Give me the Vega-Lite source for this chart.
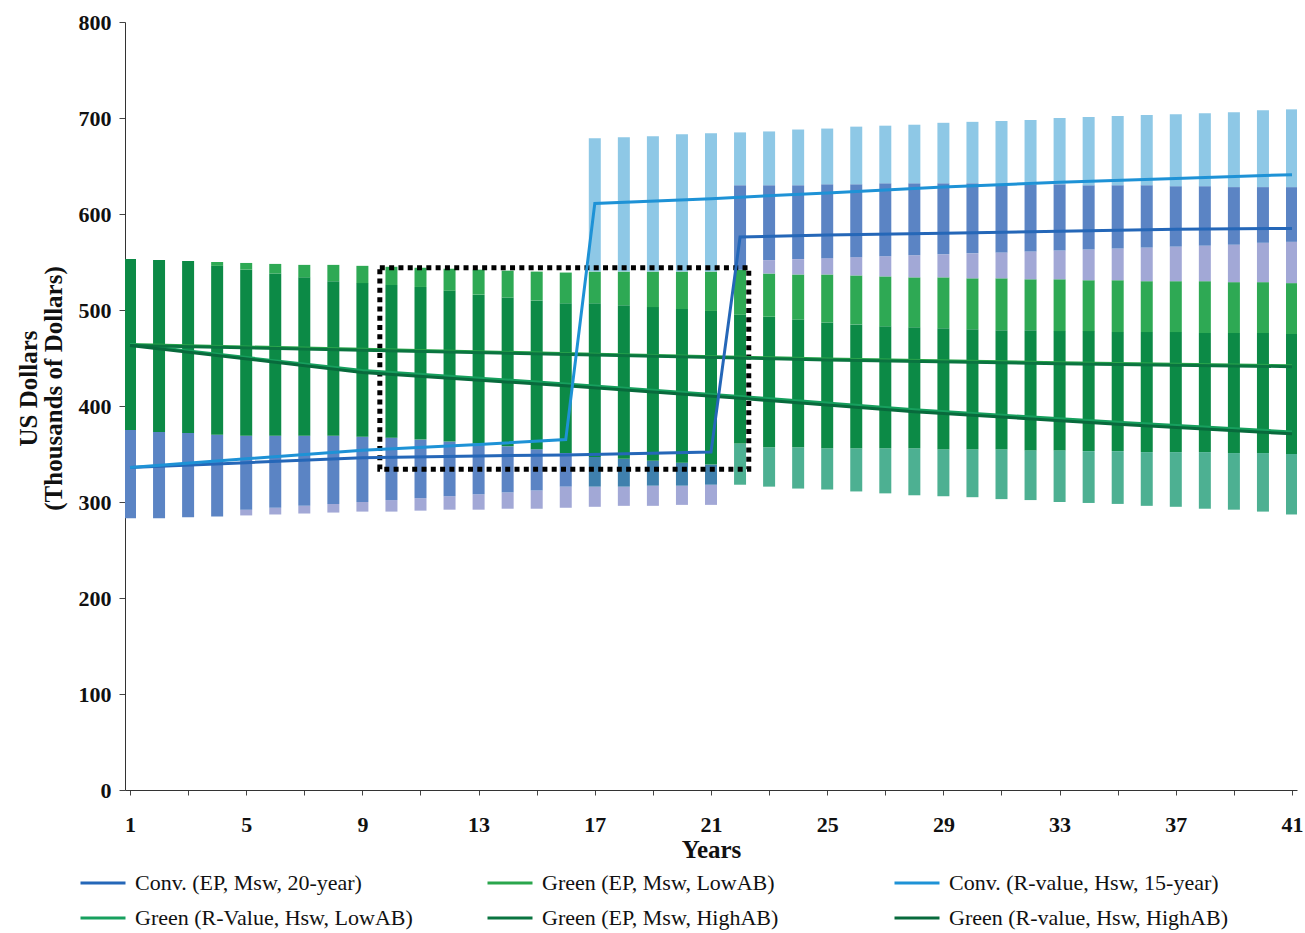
{
"$schema":"https://vega.github.io/schema/vega-lite/v6.json",
"width":1172,"height":768,
"autosize":"none",
"padding":{"left":125,"top":22,"right":8,"bottom":143},
"background":"white",
"config":{"view":{"stroke":null},"font":"Liberation Serif"},
"datasets":{
"bars":[
{"t":1,"lo":283,"hi":375,"s":"db"},{"t":1,"lo":375,"hi":553,"s":"dg"},
{"t":2,"lo":283,"hi":373,"s":"db"},{"t":2,"lo":373,"hi":552,"s":"dg"},
{"t":3,"lo":284,"hi":372,"s":"db"},{"t":3,"lo":372,"hi":551,"s":"dg"},
{"t":4,"lo":285,"hi":370,"s":"db"},{"t":4,"lo":370,"hi":546,"s":"dg"},{"t":4,"lo":546,"hi":550,"s":"bg"},
{"t":5,"lo":286,"hi":292,"s":"lav"},{"t":5,"lo":292,"hi":369,"s":"db"},{"t":5,"lo":369,"hi":542,"s":"dg"},{"t":5,"lo":542,"hi":549,"s":"bg"},
{"t":6,"lo":287,"hi":294,"s":"lav"},{"t":6,"lo":294,"hi":369,"s":"db"},{"t":6,"lo":369,"hi":538,"s":"dg"},{"t":6,"lo":538,"hi":548,"s":"bg"},
{"t":7,"lo":288,"hi":296,"s":"lav"},{"t":7,"lo":296,"hi":369,"s":"db"},{"t":7,"lo":369,"hi":534,"s":"dg"},{"t":7,"lo":534,"hi":547,"s":"bg"},
{"t":8,"lo":289,"hi":298,"s":"lav"},{"t":8,"lo":298,"hi":369,"s":"db"},{"t":8,"lo":369,"hi":530,"s":"dg"},{"t":8,"lo":530,"hi":547,"s":"bg"},
{"t":9,"lo":290,"hi":300,"s":"lav"},{"t":9,"lo":300,"hi":368,"s":"db"},{"t":9,"lo":368,"hi":528,"s":"dg"},{"t":9,"lo":528,"hi":546,"s":"bg"},
{"t":10,"lo":290,"hi":302,"s":"lav"},{"t":10,"lo":302,"hi":367,"s":"db"},{"t":10,"lo":367,"hi":526,"s":"dg"},{"t":10,"lo":526,"hi":545,"s":"bg"},
{"t":11,"lo":291,"hi":304,"s":"lav"},{"t":11,"lo":304,"hi":365,"s":"db"},{"t":11,"lo":365,"hi":524,"s":"dg"},{"t":11,"lo":524,"hi":544,"s":"bg"},
{"t":12,"lo":292,"hi":306,"s":"lav"},{"t":12,"lo":306,"hi":363,"s":"db"},{"t":12,"lo":363,"hi":520,"s":"dg"},{"t":12,"lo":520,"hi":543,"s":"bg"},
{"t":13,"lo":292,"hi":308,"s":"lav"},{"t":13,"lo":308,"hi":361,"s":"db"},{"t":13,"lo":361,"hi":516,"s":"dg"},{"t":13,"lo":516,"hi":542,"s":"bg"},
{"t":14,"lo":293,"hi":310,"s":"lav"},{"t":14,"lo":310,"hi":358,"s":"db"},{"t":14,"lo":358,"hi":513,"s":"dg"},{"t":14,"lo":513,"hi":541,"s":"bg"},
{"t":15,"lo":293,"hi":312,"s":"lav"},{"t":15,"lo":312,"hi":355,"s":"db"},{"t":15,"lo":355,"hi":510,"s":"dg"},{"t":15,"lo":510,"hi":540,"s":"bg"},
{"t":16,"lo":294,"hi":316,"s":"lav"},{"t":16,"lo":316,"hi":351,"s":"db"},{"t":16,"lo":351,"hi":507,"s":"dg"},{"t":16,"lo":507,"hi":539,"s":"bg"},
{"t":17,"lo":295,"hi":316,"s":"lav"},{"t":17,"lo":316,"hi":347,"s":"tb"},{"t":17,"lo":347,"hi":507,"s":"dg"},{"t":17,"lo":507,"hi":540,"s":"bg"},{"t":17,"lo":540,"hi":679,"s":"lb"},
{"t":18,"lo":296,"hi":316,"s":"lav"},{"t":18,"lo":316,"hi":345,"s":"tb"},{"t":18,"lo":345,"hi":505,"s":"dg"},{"t":18,"lo":505,"hi":540,"s":"bg"},{"t":18,"lo":540,"hi":680,"s":"lb"},
{"t":19,"lo":296,"hi":317,"s":"lav"},{"t":19,"lo":317,"hi":343,"s":"tb"},{"t":19,"lo":343,"hi":503,"s":"dg"},{"t":19,"lo":503,"hi":540,"s":"bg"},{"t":19,"lo":540,"hi":681,"s":"lb"},
{"t":20,"lo":297,"hi":317,"s":"lav"},{"t":20,"lo":317,"hi":341,"s":"tb"},{"t":20,"lo":341,"hi":501,"s":"dg"},{"t":20,"lo":501,"hi":540,"s":"bg"},{"t":20,"lo":540,"hi":683,"s":"lb"},
{"t":21,"lo":297,"hi":318,"s":"lav"},{"t":21,"lo":318,"hi":339,"s":"tb"},{"t":21,"lo":339,"hi":499,"s":"dg"},{"t":21,"lo":499,"hi":540,"s":"bg"},{"t":21,"lo":540,"hi":684,"s":"lb"},
{"t":22,"lo":318,"hi":361,"s":"tg"},{"t":22,"lo":361,"hi":495,"s":"dg"},{"t":22,"lo":495,"hi":542,"s":"bg"},{"t":22,"lo":542,"hi":630,"s":"db"},{"t":22,"lo":630,"hi":685,"s":"lb"},
{"t":23,"lo":316,"hi":357,"s":"tg"},{"t":23,"lo":357,"hi":493,"s":"dg"},{"t":23,"lo":493,"hi":538,"s":"bg"},{"t":23,"lo":538,"hi":552,"s":"lav"},{"t":23,"lo":552,"hi":630,"s":"db"},{"t":23,"lo":630,"hi":686,"s":"lb"},
{"t":24,"lo":314,"hi":357,"s":"tg"},{"t":24,"lo":357,"hi":490,"s":"dg"},{"t":24,"lo":490,"hi":537,"s":"bg"},{"t":24,"lo":537,"hi":553,"s":"lav"},{"t":24,"lo":553,"hi":630,"s":"db"},{"t":24,"lo":630,"hi":688,"s":"lb"},
{"t":25,"lo":313,"hi":356,"s":"tg"},{"t":25,"lo":356,"hi":487,"s":"dg"},{"t":25,"lo":487,"hi":537,"s":"bg"},{"t":25,"lo":537,"hi":554,"s":"lav"},{"t":25,"lo":554,"hi":631,"s":"db"},{"t":25,"lo":631,"hi":689,"s":"lb"},
{"t":26,"lo":311,"hi":356,"s":"tg"},{"t":26,"lo":356,"hi":485,"s":"dg"},{"t":26,"lo":485,"hi":536,"s":"bg"},{"t":26,"lo":536,"hi":555,"s":"lav"},{"t":26,"lo":555,"hi":631,"s":"db"},{"t":26,"lo":631,"hi":691,"s":"lb"},
{"t":27,"lo":309,"hi":356,"s":"tg"},{"t":27,"lo":356,"hi":483,"s":"dg"},{"t":27,"lo":483,"hi":535,"s":"bg"},{"t":27,"lo":535,"hi":556,"s":"lav"},{"t":27,"lo":556,"hi":632,"s":"db"},{"t":27,"lo":632,"hi":692,"s":"lb"},
{"t":28,"lo":307,"hi":356,"s":"tg"},{"t":28,"lo":356,"hi":482,"s":"dg"},{"t":28,"lo":482,"hi":534,"s":"bg"},{"t":28,"lo":534,"hi":557,"s":"lav"},{"t":28,"lo":557,"hi":632,"s":"db"},{"t":28,"lo":632,"hi":693,"s":"lb"},
{"t":29,"lo":306,"hi":355,"s":"tg"},{"t":29,"lo":355,"hi":481,"s":"dg"},{"t":29,"lo":481,"hi":534,"s":"bg"},{"t":29,"lo":534,"hi":558,"s":"lav"},{"t":29,"lo":558,"hi":632,"s":"db"},{"t":29,"lo":632,"hi":695,"s":"lb"},
{"t":30,"lo":305,"hi":355,"s":"tg"},{"t":30,"lo":355,"hi":480,"s":"dg"},{"t":30,"lo":480,"hi":533,"s":"bg"},{"t":30,"lo":533,"hi":559,"s":"lav"},{"t":30,"lo":559,"hi":632,"s":"db"},{"t":30,"lo":632,"hi":696,"s":"lb"},
{"t":31,"lo":303,"hi":355,"s":"tg"},{"t":31,"lo":355,"hi":479,"s":"dg"},{"t":31,"lo":479,"hi":533,"s":"bg"},{"t":31,"lo":533,"hi":560,"s":"lav"},{"t":31,"lo":560,"hi":631,"s":"db"},{"t":31,"lo":631,"hi":697,"s":"lb"},
{"t":32,"lo":302,"hi":354,"s":"tg"},{"t":32,"lo":354,"hi":479,"s":"dg"},{"t":32,"lo":479,"hi":532,"s":"bg"},{"t":32,"lo":532,"hi":561,"s":"lav"},{"t":32,"lo":561,"hi":631,"s":"db"},{"t":32,"lo":631,"hi":698,"s":"lb"},
{"t":33,"lo":300,"hi":354,"s":"tg"},{"t":33,"lo":354,"hi":478,"s":"dg"},{"t":33,"lo":478,"hi":532,"s":"bg"},{"t":33,"lo":532,"hi":562,"s":"lav"},{"t":33,"lo":562,"hi":631,"s":"db"},{"t":33,"lo":631,"hi":700,"s":"lb"},
{"t":34,"lo":299,"hi":353,"s":"tg"},{"t":34,"lo":353,"hi":478,"s":"dg"},{"t":34,"lo":478,"hi":531,"s":"bg"},{"t":34,"lo":531,"hi":563,"s":"lav"},{"t":34,"lo":563,"hi":630,"s":"db"},{"t":34,"lo":630,"hi":701,"s":"lb"},
{"t":35,"lo":298,"hi":353,"s":"tg"},{"t":35,"lo":353,"hi":477,"s":"dg"},{"t":35,"lo":477,"hi":531,"s":"bg"},{"t":35,"lo":531,"hi":564,"s":"lav"},{"t":35,"lo":564,"hi":630,"s":"db"},{"t":35,"lo":630,"hi":702,"s":"lb"},
{"t":36,"lo":296,"hi":352,"s":"tg"},{"t":36,"lo":352,"hi":477,"s":"dg"},{"t":36,"lo":477,"hi":530,"s":"bg"},{"t":36,"lo":530,"hi":565,"s":"lav"},{"t":36,"lo":565,"hi":630,"s":"db"},{"t":36,"lo":630,"hi":703,"s":"lb"},
{"t":37,"lo":295,"hi":352,"s":"tg"},{"t":37,"lo":352,"hi":477,"s":"dg"},{"t":37,"lo":477,"hi":530,"s":"bg"},{"t":37,"lo":530,"hi":566,"s":"lav"},{"t":37,"lo":566,"hi":629,"s":"db"},{"t":37,"lo":629,"hi":704,"s":"lb"},
{"t":38,"lo":293,"hi":352,"s":"tg"},{"t":38,"lo":352,"hi":476,"s":"dg"},{"t":38,"lo":476,"hi":530,"s":"bg"},{"t":38,"lo":530,"hi":567,"s":"lav"},{"t":38,"lo":567,"hi":629,"s":"db"},{"t":38,"lo":629,"hi":705,"s":"lb"},
{"t":39,"lo":292,"hi":351,"s":"tg"},{"t":39,"lo":351,"hi":476,"s":"dg"},{"t":39,"lo":476,"hi":529,"s":"bg"},{"t":39,"lo":529,"hi":568,"s":"lav"},{"t":39,"lo":568,"hi":628,"s":"db"},{"t":39,"lo":628,"hi":706,"s":"lb"},
{"t":40,"lo":290,"hi":351,"s":"tg"},{"t":40,"lo":351,"hi":476,"s":"dg"},{"t":40,"lo":476,"hi":529,"s":"bg"},{"t":40,"lo":529,"hi":570,"s":"lav"},{"t":40,"lo":570,"hi":628,"s":"db"},{"t":40,"lo":628,"hi":708,"s":"lb"},
{"t":41,"lo":287,"hi":350,"s":"tg"},{"t":41,"lo":350,"hi":475,"s":"dg"},{"t":41,"lo":475,"hi":528,"s":"bg"},{"t":41,"lo":528,"hi":571,"s":"lav"},{"t":41,"lo":571,"hi":628,"s":"db"},{"t":41,"lo":628,"hi":709,"s":"lb"}
],
"lines":[
{"t":1,"v":464,"s":"Green (EP, Msw, LowAB)"},{"t":9,"v":459,"s":"Green (EP, Msw, LowAB)"},{"t":17,"v":454,"s":"Green (EP, Msw, LowAB)"},{"t":25,"v":449,"s":"Green (EP, Msw, LowAB)"},{"t":33,"v":445,"s":"Green (EP, Msw, LowAB)"},{"t":41,"v":442,"s":"Green (EP, Msw, LowAB)"},
{"t":1,"v":464,"s":"Green (R-Value, Hsw, LowAB)"},{"t":9,"v":437,"s":"Green (R-Value, Hsw, LowAB)"},{"t":16,"v":423,"s":"Green (R-Value, Hsw, LowAB)"},{"t":22,"v":410,"s":"Green (R-Value, Hsw, LowAB)"},{"t":28,"v":396,"s":"Green (R-Value, Hsw, LowAB)"},{"t":35,"v":383,"s":"Green (R-Value, Hsw, LowAB)"},{"t":41,"v":373,"s":"Green (R-Value, Hsw, LowAB)"},
{"t":1,"v":463,"s":"Green (EP, Msw, HighAB)"},{"t":9,"v":458,"s":"Green (EP, Msw, HighAB)"},{"t":17,"v":453,"s":"Green (EP, Msw, HighAB)"},{"t":25,"v":448,"s":"Green (EP, Msw, HighAB)"},{"t":33,"v":444,"s":"Green (EP, Msw, HighAB)"},{"t":41,"v":441,"s":"Green (EP, Msw, HighAB)"},
{"t":1,"v":463,"s":"Green (R-value, Hsw, HighAB)"},{"t":9,"v":435,"s":"Green (R-value, Hsw, HighAB)"},{"t":16,"v":421,"s":"Green (R-value, Hsw, HighAB)"},{"t":22,"v":408,"s":"Green (R-value, Hsw, HighAB)"},{"t":28,"v":394,"s":"Green (R-value, Hsw, HighAB)"},{"t":35,"v":381,"s":"Green (R-value, Hsw, HighAB)"},{"t":41,"v":371,"s":"Green (R-value, Hsw, HighAB)"},
{"t":1,"v":336,"s":"Conv. (EP, Msw, 20-year)"},{"t":5,"v":341,"s":"Conv. (EP, Msw, 20-year)"},{"t":9,"v":346,"s":"Conv. (EP, Msw, 20-year)"},{"t":13,"v":348,"s":"Conv. (EP, Msw, 20-year)"},{"t":16,"v":349,"s":"Conv. (EP, Msw, 20-year)"},{"t":21,"v":352,"s":"Conv. (EP, Msw, 20-year)"},{"t":22,"v":576,"s":"Conv. (EP, Msw, 20-year)"},{"t":25,"v":578,"s":"Conv. (EP, Msw, 20-year)"},{"t":29,"v":580,"s":"Conv. (EP, Msw, 20-year)"},{"t":33,"v":582,"s":"Conv. (EP, Msw, 20-year)"},{"t":37,"v":584,"s":"Conv. (EP, Msw, 20-year)"},{"t":41,"v":585,"s":"Conv. (EP, Msw, 20-year)"},
{"t":1,"v":336,"s":"Conv. (R-value, Hsw, 15-year)"},{"t":5,"v":345,"s":"Conv. (R-value, Hsw, 15-year)"},{"t":9,"v":354,"s":"Conv. (R-value, Hsw, 15-year)"},{"t":13,"v":360,"s":"Conv. (R-value, Hsw, 15-year)"},{"t":16,"v":365,"s":"Conv. (R-value, Hsw, 15-year)"},{"t":17,"v":611,"s":"Conv. (R-value, Hsw, 15-year)"},{"t":21,"v":616,"s":"Conv. (R-value, Hsw, 15-year)"},{"t":25,"v":622,"s":"Conv. (R-value, Hsw, 15-year)"},{"t":29,"v":628,"s":"Conv. (R-value, Hsw, 15-year)"},{"t":33,"v":633,"s":"Conv. (R-value, Hsw, 15-year)"},{"t":37,"v":637,"s":"Conv. (R-value, Hsw, 15-year)"},{"t":41,"v":641,"s":"Conv. (R-value, Hsw, 15-year)"}
],
"box":[{"x1":9.6,"x2":22.3,"y1":334,"y2":544}]
},
"layer":[
{"data":{"name":"bars"},
 "mark":{"type":"bar","width":12,"clip":true},
 "encoding":{
  "x":{"field":"t","type":"quantitative","scale":{"domain":[1,41],"nice":false,"zero":false},
   "axis":{"values":[1,2,3,4,5,6,7,8,9,10,11,12,13,14,15,16,17,18,19,20,21,22,23,24,25,26,27,28,29,30,31,32,33,34,35,36,37,38,39,40,41],
    "labelExpr":"(datum.value-1)%4==0 ? datum.label : ''","labelFlush":false,"labelOverlap":false,
    "title":"Years","titleFontSize":25,"titleFontWeight":"bold","titleColor":"#111","titlePadding":2,
    "labelFontSize":22,"labelFontWeight":"bold","labelColor":"#111","labelPadding":19,
    "tickSize":5,"tickColor":"#444","domainColor":"#333","grid":false}},
  "y":{"field":"hi","type":"quantitative","scale":{"domain":[0,800],"nice":false},
   "axis":{"values":[0,100,200,300,400,500,600,700,800],
    "title":["US Dollars","(Thousands of Dollars)"],"titleFontSize":25,"titleFontWeight":"bold","titleColor":"#111",
    "titleAngle":-90,"titleX":-97,"titleY":366,"titleBaseline":"middle","titleAlign":"center","titleLineHeight":25,
    "labelFontSize":22,"labelFontWeight":"bold","labelColor":"#111","labelPadding":8,
    "tickSize":6,"tickColor":"#444","domainColor":"#333","grid":false}},
  "y2":{"field":"lo"},
  "color":{"field":"s","type":"nominal","legend":null,
   "scale":{"domain":["lb","db","lav","tb","bg","dg","tg"],"range":["#8ec8e6","#5b84c4","#a2a8d6","#3f80ad","#2ea954","#0c8a46","#4db092"]}}
 }},
{"data":{"name":"box"},
 "mark":{"type":"rect","fillOpacity":0,"stroke":"#000","strokeWidth":5,"strokeDash":[5,4.3]},
 "encoding":{"x":{"field":"x1","type":"quantitative"},"x2":{"field":"x2"},"y":{"field":"y1","type":"quantitative"},"y2":{"field":"y2"}}},
{"data":{"name":"lines"},
 "mark":{"type":"line","strokeWidth":3},
 "encoding":{
  "x":{"field":"t","type":"quantitative"},
  "y":{"field":"v","type":"quantitative"},
  "color":{"field":"s","type":"nominal",
   "scale":{"domain":["Conv. (EP, Msw, 20-year)","Green (EP, Msw, LowAB)","Conv. (R-value, Hsw, 15-year)","Green (R-Value, Hsw, LowAB)","Green (EP, Msw, HighAB)","Green (R-value, Hsw, HighAB)"],
    "range":["#2567b8","#2aa64c","#1e92d6","#17a05e","#0a7440","#086a3c"]},
   "legend":{"orient":"none","legendX":-46,"legendY":837,"direction":"horizontal","columns":3,"title":null,
    "symbolType":"stroke","symbolSize":2025,"symbolStrokeWidth":3,"labelFontSize":22,"labelFont":"Liberation Serif","labelColor":"#111",
    "labelOffset":8,"columnPadding":66,"rowPadding":0,"gridAlign":"all","labelLimit":500}}
 }},
{"mark":{"type":"rule","color":"#777","strokeWidth":1},"encoding":{"x":{"datum":41}}}
],
"resolve":{"scale":{"color":"independent"}}
}
